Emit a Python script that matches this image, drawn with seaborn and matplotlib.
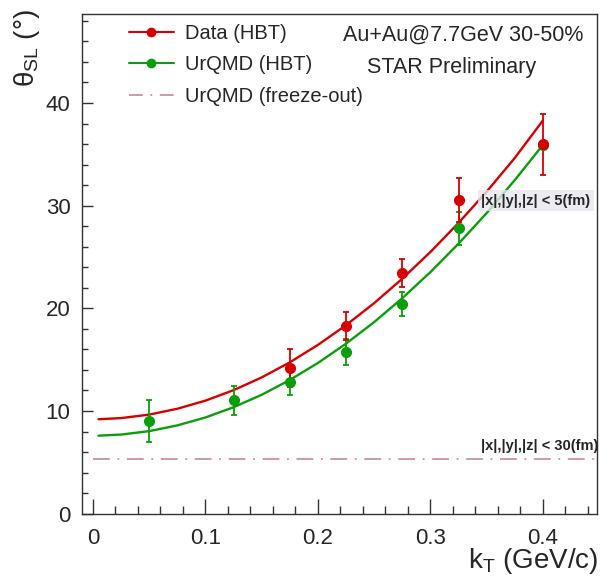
import numpy as np
import pandas as pd
import matplotlib
matplotlib.use("Agg")
import matplotlib.pyplot as plt
from matplotlib.lines import Line2D
from matplotlib.ticker import MultipleLocator, FuncFormatter
import seaborn as sns

# Measured tilt angle vs pair transverse momentum
kt_data = [0.175, 0.225, 0.275, 0.325, 0.400]
theta_data = [14.16, 18.30, 23.47, 30.55, 35.97]
err_data = [1.85, 1.35, 1.37, 2.10, 3.00]

kt_urqmd = [0.050, 0.125, 0.175, 0.225, 0.275, 0.325, 0.400]
theta_urqmd = [9.03, 11.05, 12.80, 15.75, 20.42, 27.80, 35.90]
err_urqmd = [2.00, 1.40, 1.25, 1.30, 1.15, 1.60, 0.40]

# Fit curves sampled along kT
kt_fit = [0.005, 0.025, 0.05, 0.075, 0.10, 0.125, 0.15, 0.175, 0.20,
          0.225, 0.25, 0.275, 0.30, 0.325, 0.35, 0.375, 0.40]
fit_data = [9.20, 9.31, 9.65, 10.22, 11.01, 12.03, 13.27, 14.74, 16.44,
            18.36, 20.51, 22.89, 25.49, 28.32, 31.37, 34.65, 38.30]
fit_urqmd = [7.60, 7.71, 8.04, 8.60, 9.37, 10.37, 11.58, 13.02, 14.68,
             16.56, 18.66, 20.99, 23.53, 26.30, 29.28, 32.49, 35.92]

# UrQMD freeze-out value
kt_freeze = [0.0, 0.448]
theta_freeze = [5.32, 5.32]

RED = "#d60000"
GREEN = "#0b9e0b"
ROSE = "#c48088"

sns.set_theme(style="white")
plt.rcParams["font.family"] = ["Liberation Sans", "DejaVu Sans"]
plt.rcParams["mathtext.fontset"] = "custom"
plt.rcParams["mathtext.rm"] = "Liberation Sans"
plt.rcParams["mathtext.it"] = "Liberation Sans"

fig = plt.figure(figsize=(6.06, 5.77), dpi=100)
ax = fig.add_axes([0.1347, 0.1097, 0.8503, 0.8666])

df_fit = pd.DataFrame({"kt": kt_fit, "data": fit_data, "urqmd": fit_urqmd})
sns.lineplot(data=df_fit, x="kt", y="urqmd", color=GREEN, lw=1.7, ax=ax)
sns.lineplot(data=df_fit, x="kt", y="data", color=RED, lw=1.7, ax=ax)

df_fo = pd.DataFrame({"kt": kt_freeze, "theta": theta_freeze})
sns.lineplot(data=df_fo, x="kt", y="theta", color=ROSE, lw=1.1,
             linestyle=(0, (11, 5, 1.2, 5)), ax=ax)

ax.errorbar(kt_urqmd, theta_urqmd, yerr=err_urqmd, fmt="o", color=GREEN,
            ms=7, elinewidth=1.3, capsize=2, capthick=1.3)
ax.errorbar(kt_data, theta_data, yerr=err_data, fmt="o", color=RED,
            ms=7, elinewidth=1.3, capsize=2, capthick=1.3)

ax.set_xlim(-0.01, 0.448)
ax.set_ylim(0, 48.7)
ax.xaxis.set_major_locator(MultipleLocator(0.1))
ax.xaxis.set_minor_locator(MultipleLocator(0.02))
ax.yaxis.set_major_locator(MultipleLocator(10))
ax.yaxis.set_minor_locator(MultipleLocator(2))
ax.xaxis.set_major_formatter(FuncFormatter(
    lambda v, p: "0" if abs(v) < 1e-9 else f"{v:.1f}"))
ax.tick_params(axis="x", which="major", direction="in", length=11, width=1,
               labelsize=16, pad=10, color="#333333")
ax.tick_params(axis="x", which="minor", direction="in", length=6, width=1,
               color="#333333")
ax.tick_params(axis="y", which="major", direction="in", length=8, width=1,
               labelsize=16, pad=8, color="#333333")
ax.tick_params(axis="y", which="minor", direction="in", length=4.5, width=1,
               color="#333333")
ax.tick_params(bottom=True, left=True, top=False, right=False, which="both")
for s in ax.spines.values():
    s.set_color("#333333")
    s.set_linewidth(1)

ax.set_xlabel("")
ax.set_ylabel("")
fig.text(0.987, 0.002, r"k$_{\rm T}$ (GeV/c)", ha="right", va="bottom",
         fontsize=20)
fig.text(0.02, 0.985, r"θ$_{\rm SL}$ (°)", ha="left", va="top",
         fontsize=20, rotation=90)

handles = [
    Line2D([], [], color=RED, lw=1.5, marker="o", ms=6),
    Line2D([], [], color=GREEN, lw=1.5, marker="o", ms=6),
    Line2D([], [], color=ROSE, lw=1.1, linestyle=(0, (9, 5, 1.2, 5))),
]
labels = ["Data (HBT)", "UrQMD (HBT)", "UrQMD (freeze-out)"]
ax.legend(handles, labels, loc="upper left", bbox_to_anchor=(0.065, 1.008),
          frameon=False, fontsize=14.5, handlelength=2.2, handletextpad=0.55,
          labelspacing=0.62, borderaxespad=0.3)

ax.text(0.74, 0.957, "Au+Au@7.7GeV 30-50%", transform=ax.transAxes,
        ha="center", va="center", fontsize=15.5)
ax.text(0.718, 0.893, "STAR Preliminary", transform=ax.transAxes,
        ha="center", va="center", fontsize=15.5)

ax.text(0.345, 30.5, "|x|,|y|,|z| < 5(fm)", fontsize=10.5, fontweight="bold",
        ha="left", va="center",
        bbox=dict(facecolor="#e6e6ee", edgecolor="none", pad=2.5, alpha=0.8))
ax.text(0.345, 6.6, "|x|,|y|,|z| < 30(fm)", fontsize=10.5, fontweight="bold",
        ha="left", va="center")

fig.savefig("out.png", dpi=100)
